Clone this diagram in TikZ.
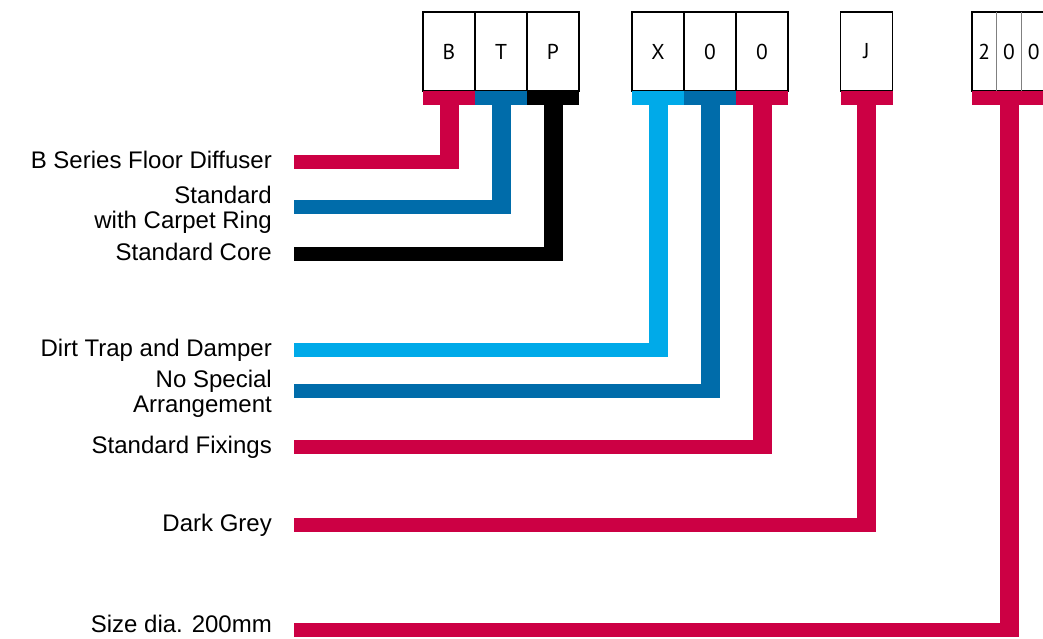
\documentclass[tikz,border=0pt]{standalone}
\usepackage{fontspec}
\setmainfont{Liberation Sans}
\newfontfamily\codefont{PT Sans}
\usetikzlibrary{positioning, calc}

\definecolor{codered}{RGB}{204,0,68}
\definecolor{codeblue}{RGB}{0,108,170}
\definecolor{codesky}{RGB}{0,170,233}

\begin{document}
\begin{tikzpicture}[
    x=1pt, y=-1pt,
    cell/.style={draw, line width=1.2pt, outer sep=0pt, inner sep=0pt,
                 minimum width=52pt, minimum height=79pt,
                 font=\codefont\fontsize{21.5}{21.5}\selectfont},
    digit/.style={inner sep=0pt, font=\codefont\fontsize{21.5}{21.5}\selectfont},
    tab/.style={outer sep=0pt, inner sep=0pt, minimum width=52pt, minimum height=14pt},
    label/.style={anchor=east, align=right, inner sep=0pt,
                  font=\fontsize{24}{25}\selectfont},
    oneline/.style={text height=13pt, text depth=0pt},
    hbar/.style={line width=14pt},
    vbar/.style={line width=19pt},
]
    \useasboundingbox (0,0) rectangle (1043,638);

    % ── Code boxes ────────────────────────────────
    \node[cell] (cB) at (449,51.5) {B};
    \node[cell, right=0pt of cB] (cT) {T};
    \node[cell, right=0pt of cT] (cP) {P};

    \node[cell] (cX) at (658,51.5) {X};
    \node[cell, right=0pt of cX] (cOa) {0};
    \node[cell, right=0pt of cOa] (cOb) {0};

    \node[cell] (cJ) at (866.5,51.5) {J};

    \node[cell, minimum width=74pt] (cS) at (1009,51.5) {};
    \draw[gray, thin] ($(cS.north west)!1/3!(cS.north east)$)
                   -- ($(cS.south west)!1/3!(cS.south east)$);
    \draw[gray, thin] ($(cS.north west)!2/3!(cS.north east)$)
                   -- ($(cS.south west)!2/3!(cS.south east)$);
    \node[digit] (dA) at ($(cS.west)!1/6!(cS.east)$) {2};
    \node[digit] (dB) at (cS.center) {0};
    \node[digit] (dC) at ($(cS.west)!5/6!(cS.east)$) {0};

    % ── Coloured tabs ─────────────────────────────
    \node[tab, fill=codered,  below=0pt of cB]  (tB)  {};
    \node[tab, fill=codeblue, below=0pt of cT]  (tT)  {};
    \node[tab, fill=black,    below=0pt of cP]  (tP)  {};
    \node[tab, fill=codesky,  below=0pt of cX]  (tX)  {};
    \node[tab, fill=codeblue, below=0pt of cOa] (tOa) {};
    \node[tab, fill=codered,  below=0pt of cOb] (tOb) {};
    \node[tab, fill=codered,  below=0pt of cJ]  (tJ)  {};
    \node[tab, fill=codered,  below=0pt of cS, minimum width=74pt] (tS) {};

    % ── Labels ────────────────────────────────────
    \node[label, oneline] (lB)  at (272,162) {B Series Floor Diffuser};
    \node[label] (lT)  at (272,207) {\rule{0pt}{23.5pt}Standard\\with Carpet Ring};
    \node[label, oneline] (lP)  at (272,254) {Standard Core};
    \node[label, oneline] (lX)  at (272,350) {Dirt Trap and Damper};
    \node[label] (lOa) at (272,391) {\rule{0pt}{23.5pt}No Special\\Arrangement};
    \node[label, oneline] (lOb) at (272,447) {Standard Fixings};
    \node[label, oneline] (lJ)  at (272,525) {Dark Grey};
    \node[label, oneline, text height=4pt] (lS)  at (272,630) {Size dia. 200mm};

    % ── Connectors ────────────────────────────────
    \foreach \t/\l/\c in {tB/lB/codered, tT/lT/codeblue, tP/lP/black,
                          tX/lX/codesky, tOa/lOa/codeblue, tOb/lOb/codered,
                          tJ/lJ/codered, tS/lS/codered} {
      \draw[hbar, \c] ($(\l.east)+(22pt,0)$) -- ($(\t.south |- \l.east)+(9.5pt,0)$);
      \draw[vbar, \c] (\t.south) -- ($(\t.south |- \l.east)+(0,-7pt)$);
    }
\end{tikzpicture}
\end{document}
